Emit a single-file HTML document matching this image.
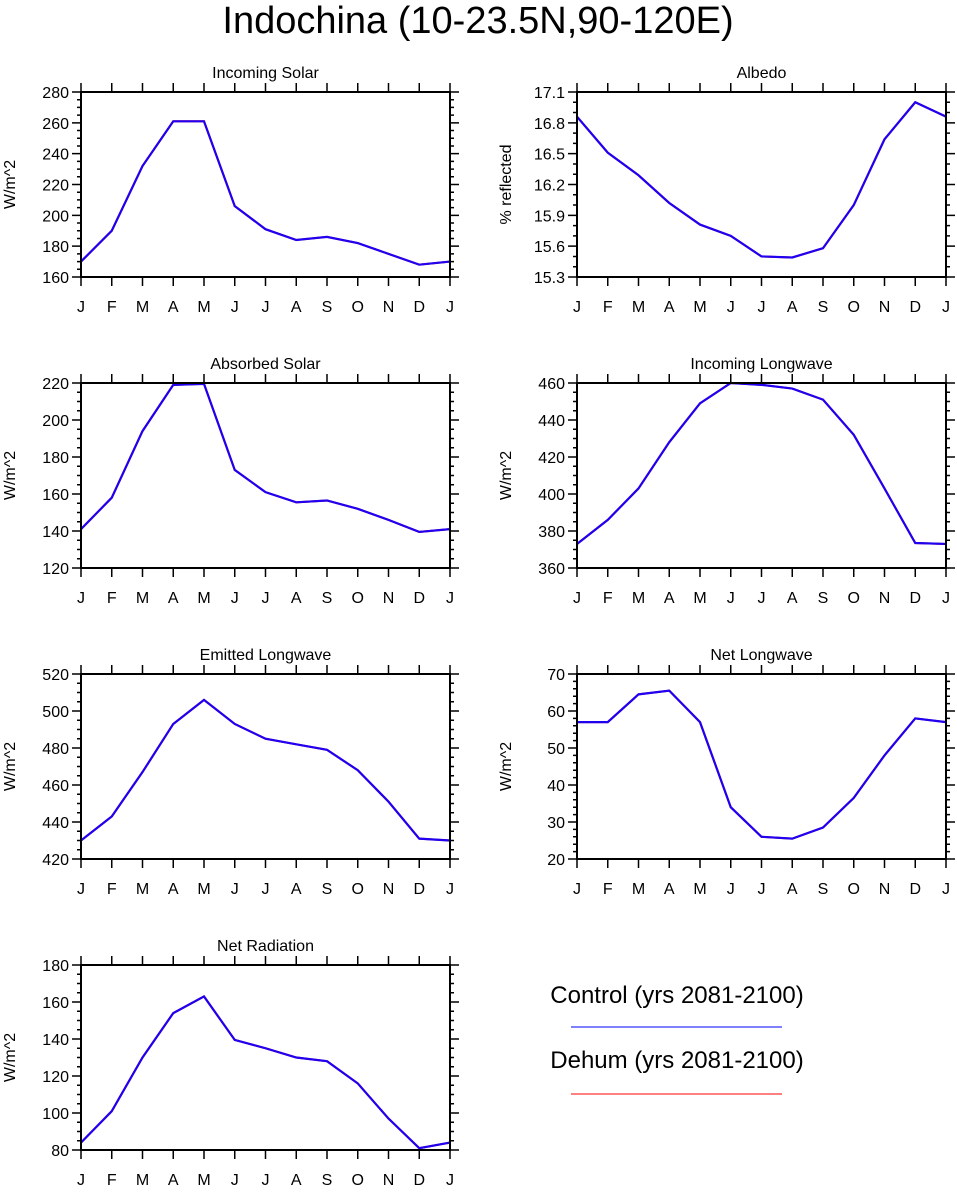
<!DOCTYPE html>
<html><head><meta charset="utf-8"><style>
body{margin:0;background:#fff;}
svg text{font-family:"Liberation Sans",Arial,sans-serif;fill:#000;}
</style></head><body>
<svg id="fig" width="957" height="1187" xmlns="http://www.w3.org/2000/svg">
<text x="478" y="33" font-size="38" text-anchor="middle">Indochina (10-23.5N,90-120E)</text>
<g>
<text x="677" y="1003" font-size="24" text-anchor="middle">Control (yrs 2081-2100)</text>
<line x1="571" x2="782" y1="1027" y2="1027" stroke="#0000ff" stroke-width="1"/>
<text x="677" y="1068" font-size="24" text-anchor="middle">Dehum (yrs 2081-2100)</text>
<line x1="571" x2="782" y1="1094" y2="1094" stroke="#ff0000" stroke-width="1"/>
</g>
</svg>
<script>
const months = ["J","F","M","A","M","J","J","A","S","O","N","D","J"];
const solarIn = [170,190,232,261,261,206,191,184,186,182,175,168,170];
const albedo = [16.86,16.51,16.29,16.02,15.81,15.70,15.50,15.49,15.58,16.00,16.64,17.00,16.86];
const solarAbs = [141,158,194,219,219.5,173,161,155.5,156.5,152,146,139.5,141];
const lwIn = [373,386,403,428,449,460,459,457,451,432,403,373.5,373];
const lwOut = [430,443,467,493,506,493,485,482,479,468,451,431,430];
const lwNet = [57,57,64.5,65.5,57,34,26,25.5,28.5,36.5,48,58,57];
const netRad = [84,101,130,154,163,139.5,135,130,128,116,97,81,84];
const panelDefs = [
 {name:"incoming-solar",title:"Incoming Solar",yl:"W/m^2",data:solarIn,min:160,max:280,step:20,minor:4,dec:0,c:0,r:0},
 {name:"albedo",title:"Albedo",yl:"% reflected",data:albedo,min:15.3,max:17.1,step:0.3,minor:3,dec:1,c:1,r:0},
 {name:"absorbed-solar",title:"Absorbed Solar",yl:"W/m^2",data:solarAbs,min:120,max:220,step:20,minor:4,dec:0,c:0,r:1},
 {name:"incoming-longwave",title:"Incoming Longwave",yl:"W/m^2",data:lwIn,min:360,max:460,step:20,minor:4,dec:0,c:1,r:1},
 {name:"emitted-longwave",title:"Emitted Longwave",yl:"W/m^2",data:lwOut,min:420,max:520,step:20,minor:4,dec:0,c:0,r:2},
 {name:"net-longwave",title:"Net Longwave",yl:"W/m^2",data:lwNet,min:20,max:70,step:10,minor:5,dec:0,c:1,r:2},
 {name:"net-radiation",title:"Net Radiation",yl:"W/m^2",data:netRad,min:80,max:180,step:20,minor:4,dec:0,c:0,r:3}
];
const NS="http://www.w3.org/2000/svg";
const svg=document.getElementById("fig");
function mk(tag,attrs,parent){const e=document.createElementNS(NS,tag);for(const k in attrs)e.setAttribute(k,attrs[k]);parent.appendChild(e);return e;}
panelDefs.forEach(p=>{
 const L=p.c?577:81, R=p.c?946:450, T=92+p.r*291, B=T+185;
 const g=mk("g",{},svg);
 
 
 const xs=i=>L+(R-L)*i/12;
 const ys=v=>B-(B-T)*(v-p.min)/(p.max-p.min);
 const t=mk("text",{x:(L+R)/2,y:T-14,"font-size":16,"text-anchor":"middle"},g);
 t.textContent=p.title;
 
 
 const yt=mk("text",{x:0,y:0,"font-size":16,"text-anchor":"middle",transform:`translate(${L-66},${(T+B)/2}) rotate(-90)`},g);
 yt.textContent=p.yl;
 
 
 let d="";
 const n=Math.round((p.max-p.min)/p.step);
 for(let k=0;k<=n;k++){
  const y=ys(p.min+k*p.step);
  d+=`M${L-9},${y}H${L}M${R},${y}H${R+9}`;
  const lb=mk("text",{x:L-12,y:y+6,"font-size":16,"text-anchor":"end"},g);
  lb.textContent=(p.min+k*p.step).toFixed(p.dec);
  
  
  if(k<n)for(let m=1;m<p.minor;m++){const ym=ys(p.min+(k+m/p.minor)*p.step);d+=`M${L-4},${ym}H${L}M${R},${ym}H${R+4}`;}
 }
 months.forEach((m,i)=>{
  const x=xs(i);
  d+=`M${x},${B}V${B+9}M${x},${T}V${T-9}`;
  const lb=mk("text",{x:x,y:B+35,"font-size":16,"text-anchor":"middle"},g);
  lb.textContent=m;
  
  
 });
 const tk=mk("path",{d:d,stroke:"#000","stroke-width":1.5,fill:"none"},g);
 
 
 const pts=p.data.map((v,i)=>xs(i)+","+ys(v)).join(" ");
 const red=mk("polyline",{points:pts,stroke:"#ff0000","stroke-width":2,fill:"none"},g);
 
 
 const blue=mk("polyline",{points:pts,stroke:"#2000f0","stroke-width":2.2,fill:"none"},g);
 
 
 const box=mk("rect",{x:L,y:T,width:R-L,height:B-T,fill:"none",stroke:"#000","stroke-width":2},g);
 
 
});
</script>
</body></html>
